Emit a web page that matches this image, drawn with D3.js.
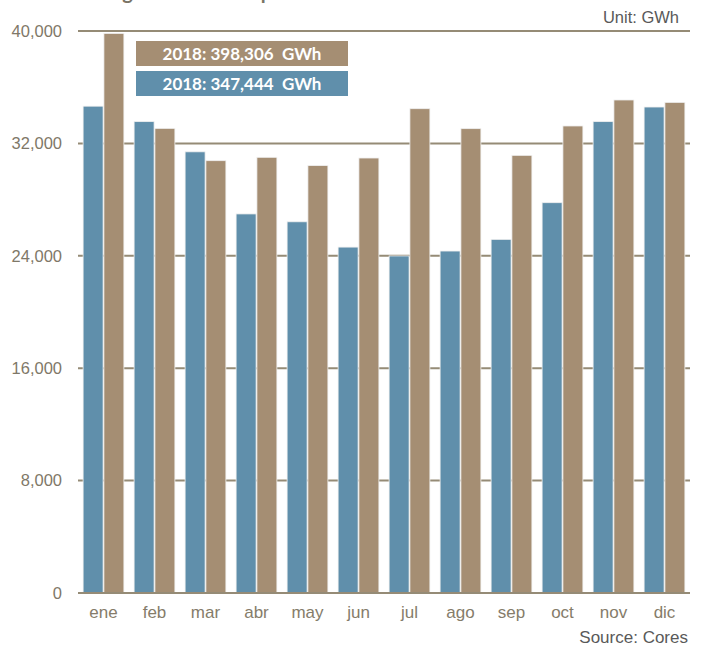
<!DOCTYPE html>
<html>
<head>
<meta charset="utf-8">
<script src="https://cdn.jsdelivr.net/npm/d3@7"></script>
<style>
  html, body { margin: 0; padding: 0; background: #fff; }
  svg { display: block; }
</style>
</head>
<body>
<svg id="chart" width="702" height="646"></svg>
<script>
const months = ["ene","feb","mar","abr","may","jun","jul","ago","sep","oct","nov","dic"];
const seriesBlue = [34650, 33550, 31400, 26980, 26420, 24620, 23990, 24340, 25170, 27780, 33550, 34590];
const seriesTan  = [39830, 33070, 30770, 31010, 30420, 30960, 34470, 33050, 31150, 33240, 35090, 34920];
const yTicks = [0, 8000, 16000, 24000, 32000, 40000];
const legendLabels = ["2018: 398,306  GWh", "2018: 347,444  GWh"];
const titleText = "Total generation comparison";

const BLUE = "#608fab", TAN = "#a58e73", GRID = "#958b76";
const LABEL_FONT = "'Liberation Sans Narrow', 'Liberation Sans', Arial, sans-serif";
const svg = d3.select("#chart");

const x = d3.scaleBand().domain(months).range([78, 690]).paddingInner(0.2).paddingOuter(0.1);
const xs = d3.scaleBand().domain(["blue","tan"]).range([0, x.bandwidth()]).paddingInner(0.04);
const y = d3.scaleLinear().domain([0, 40000]).range([593, 31]);

// title (cut off at top, as in the reference)
svg.append("text").attr("x", 74).attr("y", -1.5).attr("font-family", "Lato, 'Open Sans', sans-serif")
  .attr("font-weight", "bold").attr("font-size", 20).attr("fill", "#7a7466").text(titleText);

// gridlines
svg.append("g").selectAll("line").data(yTicks).join("line")
  .attr("x1", 78).attr("x2", 690).attr("y1", d => y(d)).attr("y2", d => y(d))
  .attr("stroke", GRID).attr("stroke-width", 2);

// y tick labels
svg.append("g").selectAll("text").data(yTicks).join("text")
  .attr("x", 62).attr("y", d => y(d)).attr("dy", "0.35em").attr("text-anchor", "end")
  .attr("font-family", LABEL_FONT).attr("font-size", 16.5)
  .attr("fill", "#7f7868").text(d => d3.format(",")(d));

// bars
const g = svg.append("g");
months.forEach((m, i) => {
  [["blue", seriesBlue[i], BLUE], ["tan", seriesTan[i], TAN]].forEach(([k, v, c]) => {
    g.append("rect").attr("x", x(m) + xs(k)).attr("width", xs.bandwidth())
      .attr("y", y(v)).attr("height", y(0) - y(v)).attr("fill", c)
      .attr("stroke", "#f0f0f0").attr("stroke-width", 0.8);
  });
});

// baseline over bars
svg.append("line").attr("x1", 78).attr("x2", 690).attr("y1", y(0)).attr("y2", y(0))
  .attr("stroke", GRID).attr("stroke-width", 2);

// month labels
svg.append("g").selectAll("text").data(months).join("text")
  .attr("x", d => x(d) + x.bandwidth() / 2).attr("y", 618).attr("text-anchor", "middle")
  .attr("font-family", LABEL_FONT).attr("font-size", 17)
  .attr("fill", "#857c6a").text(d => d);

// legend boxes
const legendColors = [TAN, BLUE];
legendLabels.forEach((t, i) => {
  const yy = 41 + i * 30;
  svg.append("rect").attr("x", 136).attr("y", yy).attr("width", 212).attr("height", 25).attr("fill", legendColors[i]);
  svg.append("text").attr("x", 242).attr("y", yy + 12.5).attr("dy", "0.36em").attr("text-anchor", "middle")
    .attr("font-family", "Lato, 'Open Sans', sans-serif").attr("font-weight", "bold").attr("font-size", 17)
    .attr("fill", "#fff").style("white-space", "pre").text(t);
});

// unit & source
svg.append("text").attr("x", 679).attr("y", 23).attr("text-anchor", "end")
  .attr("font-family", LABEL_FONT).attr("font-size", 16.5)
  .attr("fill", "#595959").text("Unit: GWh");
svg.append("text").attr("x", 688).attr("y", 643).attr("text-anchor", "end")
  .attr("font-family", LABEL_FONT).attr("font-size", 17)
  .attr("fill", "#595959").text("Source: Cores");
</script>
</body>
</html>
